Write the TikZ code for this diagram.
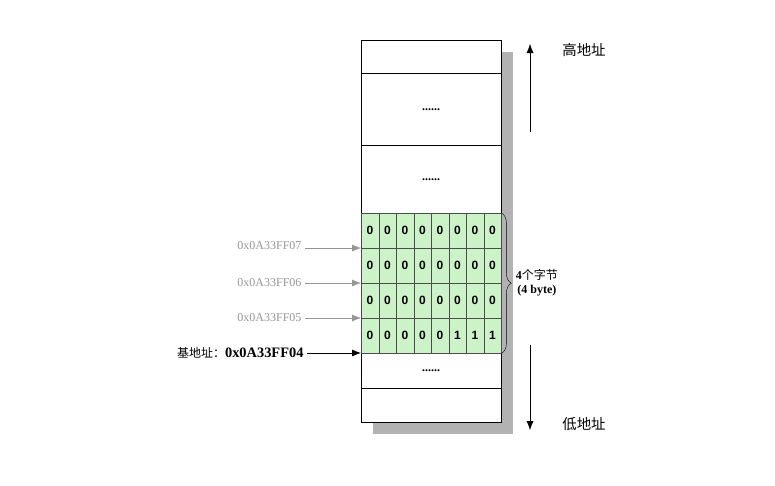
\documentclass[tikz,border=0pt]{standalone}
\usepackage{fontspec}
\setmainfont{Liberation Serif}
\newfontfamily\cjk{Noto Sans CJK SC}
\newfontfamily\bitfont{Liberation Sans}
\usetikzlibrary{decorations.pathreplacing,arrows.meta}
\definecolor{bytegreen}{RGB}{204,242,200}
\definecolor{addrgray}{RGB}{150,150,150}
\tikzset{
  memcell/.style={draw,fill=white,minimum width=140pt,inner sep=0pt,font=\bfseries\large,anchor=north west},
  bitcell/.style={draw=black!70,fill=bytegreen,minimum width=17.5pt,minimum height=35pt,inner sep=0pt,font=\bitfont\bfseries\large,anchor=north west},
  addr/.style={text=addrgray,font=\large,anchor=east},
  arr/.style={-{Latex[length=9pt,width=7pt]}}
}
\begin{document}
\begin{tikzpicture}[x=1pt,y=-1pt]
  \useasboundingbox (0,0) rectangle (775,485);
  % shadow
  \fill[black!30] (373,52) rectangle (513,434);

  \node[memcell,minimum height=33pt] (m0) at (361,40) {};
  \node[memcell,minimum height=72pt] (m1) at (361,73) {......};
  \node[memcell,minimum height=68pt] (m2) at (361,145) {......};
  \node[memcell,minimum height=35pt] (m7) at (361,353) {......};
  \node[memcell,minimum height=34pt] (m8) at (361,388) {};

  \foreach \r/\bits in {0/{0,0,0,0,0,0,0,0},1/{0,0,0,0,0,0,0,0},2/{0,0,0,0,0,0,0,0},3/{0,0,0,0,0,1,1,1}}
    \foreach \b [count=\c from 0] in \bits
      \node[bitcell] (b\r c\c) at (361+17.5*\c,213+35*\r) {\b};

  \node[addr] (a7) at (305,246) {0x0A33FF07};
  \node[addr] (a6) at (305,283) {0x0A33FF06};
  \node[addr] (a5) at (305,318) {0x0A33FF05};
  \foreach \from/\to in {a7/b1c0,a6/b2c0,a5/b3c0}
    \draw[arr,addrgray] (\from.east |- \to.north west) -- (\to.north west);

  \node[anchor=east,font=\bfseries\Large] (base) at (307,353) {{\cjk\mdseries\large 基地址：}0x0A33FF04};
  \draw[arr,thick] (base.east) -- (m7.north west);

  \draw[decorate,decoration={brace,amplitude=10pt}] (b0c7.north east) -- (b3c7.south east)
    node[midway,right=11pt,align=center,font=\bfseries\large] (sz) {4{\cjk\mdseries 个字节}\\(4 byte)};

  \coordinate (up1) at (530,132);
  \coordinate (up2) at (530,44);
  \draw[arr] (up1) -- (up2);
  \node[font=\cjk\Large] (hi) at (584,50) {高地址};
  \coordinate (dn1) at (530,345);
  \coordinate (dn2) at (530,430);
  \draw[arr] (dn1) -- (dn2);
  \node[font=\cjk\Large] (lo) at (584,424) {低地址};
\end{tikzpicture}
\end{document}
